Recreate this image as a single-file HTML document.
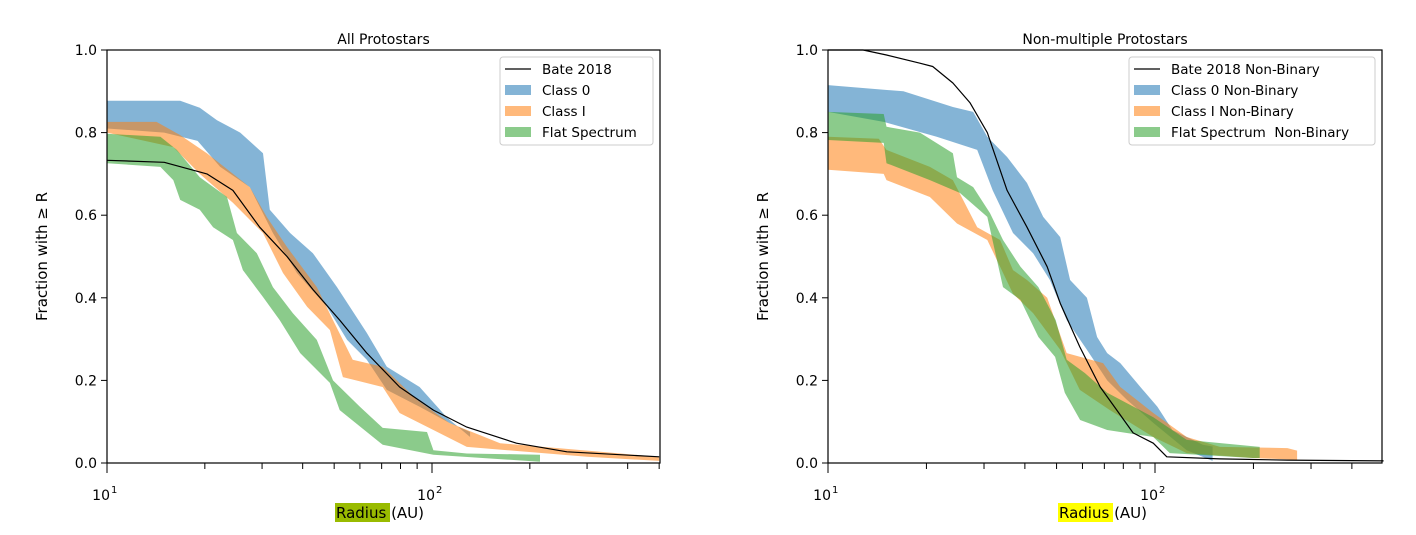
<!DOCTYPE html>
<html><head><meta charset="utf-8"><style>
body{margin:0;background:#fff;width:1416px;height:530px;overflow:hidden}
svg{font-family:"DejaVu Sans","Liberation Sans",sans-serif}
</style></head><body>
<svg id="chart" width="1416" height="530" viewBox="0 0 1416 530" xmlns="http://www.w3.org/2000/svg"></svg>
<script>
// ---- Left panel data (All Protostars) ----
const L_bate_r=[10,15,20.3,24.4,29.5,35.8,43,52,63,79.5,101,128,182,260,500];
const L_bate_v=[0.733,0.728,0.70,0.66,0.571,0.50,0.42,0.346,0.266,0.184,0.128,0.087,0.048,0.027,0.015];
const L_c0_r=[10,16.8,19.3,21.8,25.7,30.2,31.7,36.6,43,51,63,72.6,91.6,111,131];
const L_c0_up=[0.877,0.877,0.86,0.83,0.80,0.75,0.613,0.557,0.508,0.426,0.315,0.233,0.184,0.111,0.063];
const L_c0_lo_r=[10,15,19,22.3,27.5,32.4,38.4,47.5,54.8,63,72.6,91.6,113,131];
const L_c0_lo=[0.81,0.80,0.78,0.717,0.668,0.557,0.46,0.378,0.298,0.25,0.177,0.136,0.097,0.075];
const L_c1_r=[10,14.2,16.8,20.3,27.5,31,35.8,44.2,49.6,57,70.5,89.9,113,162,330,500];
const L_c1_up=[0.826,0.826,0.794,0.75,0.668,0.596,0.523,0.426,0.346,0.25,0.233,0.153,0.097,0.048,0.027,0.015];
const L_c1_lo_r=[10,16,19.3,24.4,30.2,34.8,41.3,48.5,53.2,70.5,79.5,101,128,300,500];
const L_c1_lo=[0.80,0.765,0.70,0.63,0.557,0.46,0.378,0.322,0.208,0.184,0.121,0.08,0.039,0.015,0.005];
const L_fs_r=[10,14.6,16.4,19.3,23.4,25.1,28.9,32.4,37.3,44.2,49.6,60,70.5,96.5,101,128,215];
const L_fs_up=[0.797,0.79,0.758,0.692,0.644,0.557,0.508,0.426,0.363,0.298,0.20,0.136,0.085,0.075,0.031,0.023,0.02];
const L_fs_lo_r=[10,14.6,16,16.8,19.3,21.2,24.4,26.2,30.2,34,39.3,48.5,52,70.5,101,215];
const L_fs_lo=[0.726,0.717,0.685,0.637,0.613,0.571,0.54,0.467,0.402,0.346,0.266,0.194,0.128,0.044,0.02,0.003];
// ---- Right panel data (Non-multiple) ----
const R_bate_r=[10,12.8,15.1,19.1,20.9,24.1,27.2,30.7,35.3,40.6,46.8,51.3,58.9,68,76.4,85.7,98.8,108.7,158,254,500];
const R_bate_v=[1.0,1.0,0.988,0.968,0.96,0.92,0.872,0.80,0.66,0.571,0.475,0.387,0.281,0.184,0.128,0.073,0.048,0.015,0.01,0.007,0.005];
const R_c0_r=[10,17,24.1,27.8,30.7,35.3,40.6,45.5,51.3,55,61.9,66.5,71.4,78.3,90.2,101.7,113,140,150];
const R_c0_up=[0.915,0.90,0.862,0.85,0.79,0.741,0.678,0.596,0.547,0.443,0.40,0.305,0.266,0.242,0.184,0.136,0.08,0.044,0.04];
const R_c0_lo_r=[10,14.8,21.5,28.6,31.9,36.8,42.4,47.7,53.7,61.9,71.4,82,98.8,125,150];
const R_c0_lo=[0.85,0.826,0.79,0.758,0.66,0.557,0.508,0.443,0.346,0.274,0.20,0.153,0.097,0.031,0.005];
const R_c1_r=[10,14.3,15.1,20.5,24.1,28.6,33.6,36.8,40.6,46.8,53.7,69.4,78.3,98.8,125,158,254,272];
const R_c1_up=[0.79,0.785,0.758,0.717,0.685,0.571,0.54,0.467,0.443,0.40,0.266,0.242,0.184,0.121,0.063,0.039,0.036,0.03];
const R_c1_lo_r=[10,14.8,15.1,20.5,24.8,30.7,33.6,36.8,42.4,51.3,58.9,72.8,98.8,125,199,272];
const R_c1_lo=[0.71,0.70,0.685,0.644,0.58,0.54,0.475,0.41,0.363,0.274,0.177,0.128,0.063,0.024,0.012,0.008];
const R_fs_r=[10,14.8,15.1,19.1,24.1,24.8,27.8,31.3,34.3,38.8,44,49.7,53.7,61,71.4,98.8,125,209];
const R_fs_up=[0.85,0.845,0.814,0.80,0.75,0.692,0.668,0.605,0.54,0.475,0.426,0.346,0.25,0.218,0.17,0.111,0.056,0.039];
const R_fs_lo_r=[10,14.8,15.1,20.5,25.3,30.7,34.3,38.8,44,49.5,53,59,71.4,98.8,111,199,209];
const R_fs_lo=[0.782,0.775,0.726,0.685,0.654,0.596,0.426,0.395,0.305,0.257,0.17,0.104,0.08,0.063,0.024,0.012,0.012];
const yTicks=[0,0.2,0.4,0.6,0.8,1.0];
const yTickLabels=["0.0","0.2","0.4","0.6","0.8","1.0"];

const NS="http://www.w3.org/2000/svg";
const svg=document.getElementById('chart');
function mk(tag,attrs,parent){const e=document.createElementNS(NS,tag);for(const k in attrs)e.setAttribute(k,attrs[k]);(parent||svg).appendChild(e);return e;}
const Y0=463,Y1=50;
function yS(v){return Y0-v*(Y0-Y1);}

function panel(x0,x1,decade,title,names,data,hl,key){
  const xS=r=>x0+(Math.log10(r)-1)*decade;
  const g=mk('g',{});
  
  
  const cols=['rgba(31,119,180,0.55)','rgba(255,127,14,0.55)','rgba(44,160,44,0.55)'];
  const bandNames=['class-0-band','class-i-band','flat-spectrum-band'];
  data.bands.forEach((b,i)=>{
    let pts=[];
    b.ur.forEach((r,j)=>pts.push(xS(r).toFixed(1)+','+yS(b.u[j]).toFixed(1)));
    for(let j=b.lr.length-1;j>=0;j--)pts.push(xS(b.lr[j]).toFixed(1)+','+yS(b.l[j]).toFixed(1));
    const p=mk('polygon',{points:pts.join(' '),fill:cols[i]},g);
    
    
  });
  const lp=data.br.map((r,j)=>xS(r).toFixed(1)+','+yS(data.bv[j]).toFixed(1)).join(' ');
  const bl=mk('polyline',{points:lp,fill:'none',stroke:'#000','stroke-width':1.2,'stroke-linejoin':'round'},g);
  
  
  const fr=mk('rect',{x:x0,y:Y1,width:x1-x0,height:Y0-Y1,fill:'none',stroke:'#000','stroke-width':1.2},g);
  
  
  yTicks.forEach((v,i)=>{
    const y=yS(v);
    mk('line',{x1:x0-6,x2:x0,y1:y,y2:y,stroke:'#000','stroke-width':1},g);
    const t=mk('text',{x:x0-10,y:y+5,'text-anchor':'end','font-size':14,fill:'#000'},g);
    t.textContent=yTickLabels[i];
    
    
  });
  for(let d=1;d<=2;d++)for(let m=1;m<=9;m++){
    const r=m*Math.pow(10,d);const x=xS(r);if(x>x1+0.5)continue;
    mk('line',{x1:x,x2:x,y1:Y0,y2:Y0+(m===1?10:6),stroke:'#000','stroke-width':1},g);
    if(m===1){
      const t=mk('text',{x:x+3,y:Y0+37,'text-anchor':'end','font-size':14,fill:'#000'},g);
      t.textContent='10';
      
      
      const s=mk('text',{x:x+4,y:Y0+30,'font-size':10,fill:'#000'},g);
      s.textContent=String(d);
    }
  }
  const tt=mk('text',{x:(x0+x1)/2,y:44,'text-anchor':'middle','font-size':14,fill:'#000'},g);
  tt.textContent=title;
  
  
  const yl=mk('text',{x:0,y:0,'text-anchor':'middle','font-size':15,fill:'#000',transform:`translate(${x0-60},${(Y0+Y1)/2}) rotate(-90)`},g);
  yl.textContent='Fraction with ≥ R';
  
  
  const lx=xS(100)-97;
  mk('rect',{x:lx,y:503,width:55,height:19,fill:hl},g);
  const xl=mk('text',{x:lx+1,y:518,'font-size':15,fill:'#000'},g);
  xl.textContent='Radius (AU)';
  
  
  const lw=names.wide?246:153;
  const lxL=x1-7-lw;
  const lg=mk('g',{},g);
  
  
  mk('rect',{x:lxL,y:57,width:lw,height:88,rx:3,fill:'#fff',stroke:'#ccc','stroke-width':1},lg);
  names.list.forEach((n,i)=>{
    const yy=69+i*21;
    if(i===0)mk('line',{x1:lxL+5,x2:lxL+31,y1:yy,y2:yy,stroke:'#000','stroke-width':1.2},lg);
    else mk('rect',{x:lxL+5,y:yy-5,width:26,height:10,fill:cols[i-1]},lg);
    const t=mk('text',{x:lxL+42,y:yy+5,'font-size':13.5,fill:'#000'},lg);
    t.textContent=n;
    
    
  });
}
panel(107,660,325,'All Protostars',{wide:false,list:['Bate 2018','Class 0','Class I','Flat Spectrum']},
 {br:L_bate_r,bv:L_bate_v,bands:[
  {ur:L_c0_r,u:L_c0_up,lr:L_c0_lo_r,l:L_c0_lo},
  {ur:L_c1_r,u:L_c1_up,lr:L_c1_lo_r,l:L_c1_lo},
  {ur:L_fs_r,u:L_fs_up,lr:L_fs_lo_r,l:L_fs_lo}]},'#99bb00','left');
panel(828,1382,327,'Non-multiple Protostars',{wide:true,list:['Bate 2018 Non-Binary','Class 0 Non-Binary','Class I Non-Binary','Flat Spectrum\u00a0 Non-Binary']},
 {br:R_bate_r,bv:R_bate_v,bands:[
  {ur:R_c0_r,u:R_c0_up,lr:R_c0_lo_r,l:R_c0_lo},
  {ur:R_c1_r,u:R_c1_up,lr:R_c1_lo_r,l:R_c1_lo},
  {ur:R_fs_r,u:R_fs_up,lr:R_fs_lo_r,l:R_fs_lo}]},'#ffff00','right');
</script>
</body></html>
